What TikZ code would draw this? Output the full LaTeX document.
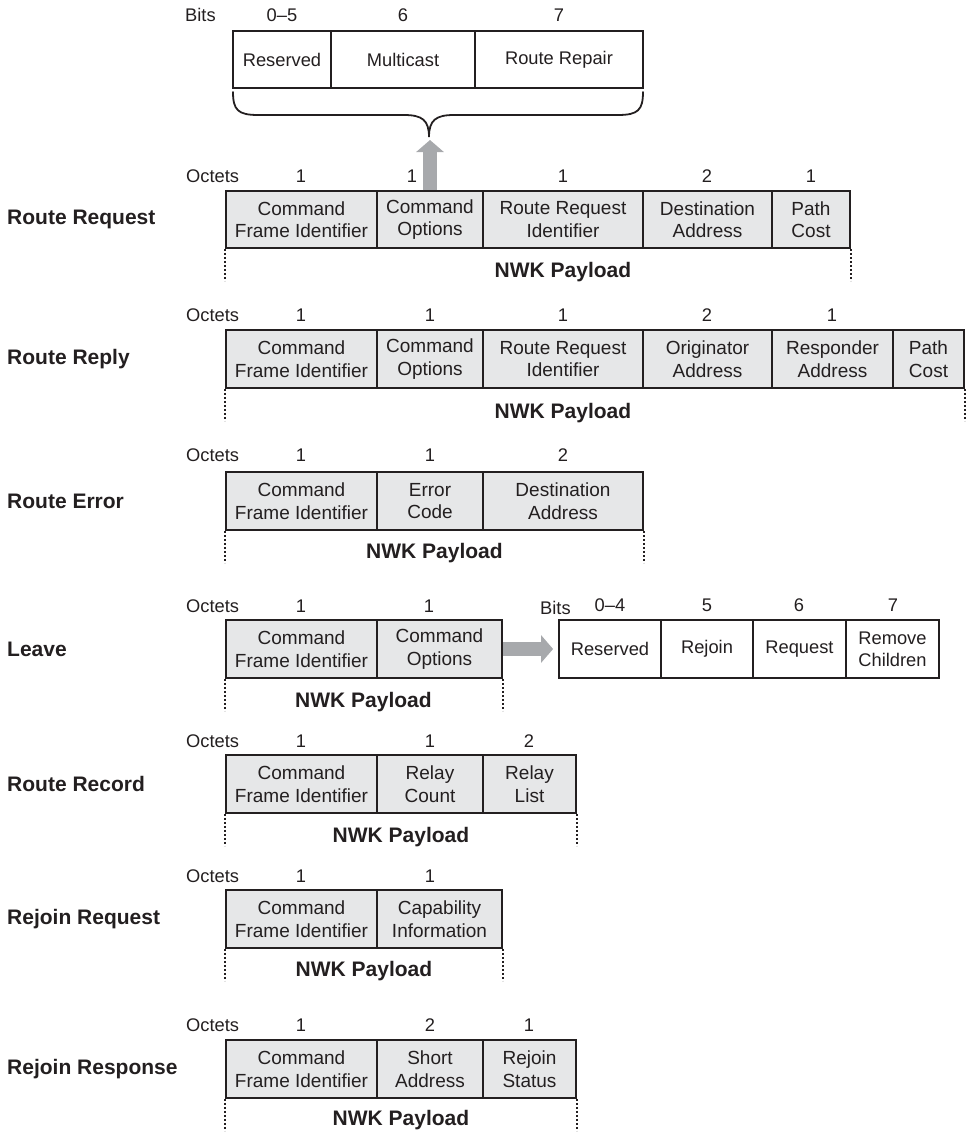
\documentclass[tikz,border=0pt]{standalone}
\usepackage{fontspec}
\setmainfont{Liberation Sans}
\usetikzlibrary{arrows.meta}
\definecolor{ink}{RGB}{35,31,32}
\definecolor{cellgray}{RGB}{230,231,232}
\definecolor{arrgray}{RGB}{167,169,172}
\newcommand\cellfont{\fontsize{19}{22.5}\selectfont}
\newcommand\bitfont{\fontsize{18.3}{22}\selectfont}
\newcommand\labfont{\fontsize{21}{24}\selectfont\bfseries}
\newcommand\fld[7]{\node[#7, minimum width={(#3-#2)*1pt}, minimum height={(#5-#4)*1pt}] (#1) at ({(#2+#3)/2},{(#4+#5)/2}) {#6};}
\tikzset{
  cell/.style={draw=ink, fill=cellgray, line width=1.8pt, inner sep=0pt, align=center, font=\cellfont, text=ink},
  bitcell/.style={cell, fill=white, font=\bitfont},
  num/.style={font=\bitfont, text=ink, inner sep=0pt},
  octlab/.style={font=\bitfont, text=ink, inner sep=0pt, anchor=west},
  lab/.style={font=\labfont, text=ink, anchor=west, inner sep=0pt},
  pay/.style={font=\labfont, text=ink, inner sep=0pt},
  dots/.style={draw=ink, line width=2.6pt, dash pattern=on 2pt off 2pt},
  bigarrow/.style={draw=arrgray, line width=14pt, -{Triangle[length=12pt,width=27pt]}},
  brace/.style={draw=ink, line width=1.8pt, line cap=round}
}
\begin{document}
\begin{tikzpicture}[x=1pt,y=-1pt]
\useasboundingbox (0,0) rectangle (968,1132);

% ---------- top bits (command options of route request)
\node[octlab] (tbits) at (185,15) {Bits};
\node[num] (tb0) at (282,15) {0--5};
\node[num] (tb1) at (403,15) {6};
\node[num] (tb2) at (559,15) {7};
\fld{tbA}{233}{331}{31}{88}{Reserved}{bitcell}
\fld{tbB}{331}{475}{31}{88}{Multicast}{bitcell}
\fld{tbC}{475}{643}{31}{88}{Route Repair}{bitcell}
\coordinate (btip) at (429,137);
\draw[brace] (233,92) .. controls (233,110) and (238,115) .. (258,115) -- (404,115)
  .. controls (422,115) and (429,120) .. (btip)
  .. controls (429,120) and (436,115) .. (454,115) -- (618,115)
  .. controls (638,115) and (643,110) .. (643,92);
\coordinate (atip) at (430,140);

% ---------- Row 1: Route Request
\node[lab] (l1) at (7,219) {Route Request};
\node[octlab] (o1) at (186,176) {Octets};
\node[num] at (301,176) {1};
\node[num] at (412,176) {1};
\node[num] at (563,176) {1};
\node[num] at (707,176) {2};
\node[num] at (811,176) {1};
\fld{r1a}{226}{377}{191}{248}{Command\\Frame Identifier}{cell}
\fld{r1b}{377}{483}{191}{248}{Command\\Options}{cell}
\fld{r1c}{483}{643}{191}{248}{Route Request\\Identifier}{cell}
\fld{r1d}{643}{772}{191}{248}{Destination\\Address}{cell}
\fld{r1e}{772}{850}{191}{248}{Path\\Cost}{cell}
\draw[dots] (r1a.south west) -- ++(0,32);
\draw[dots] (r1e.south east) -- ++(0,32);
\node[pay] (p1) at (563,272) {NWK Payload};
\draw[bigarrow] (r1b.north) -- (atip);

% ---------- Row 2: Route Reply
\node[lab] (l2) at (7,359) {Route Reply};
\node[octlab] (o2) at (186,315) {Octets};
\node[num] at (301,315) {1};
\node[num] at (430,315) {1};
\node[num] at (563,315) {1};
\node[num] at (707,315) {2};
\node[num] at (832,315) {1};
\fld{r2a}{226}{377}{330}{388}{Command\\Frame Identifier}{cell}
\fld{r2b}{377}{483}{330}{388}{Command\\Options}{cell}
\fld{r2c}{483}{643}{330}{388}{Route Request\\Identifier}{cell}
\fld{r2d}{643}{772}{330}{388}{Originator\\Address}{cell}
\fld{r2e}{772}{893}{330}{388}{Responder\\Address}{cell}
\fld{r2f}{893}{964}{330}{388}{Path\\Cost}{cell}
\draw[dots] (r2a.south west) -- ++(0,32);
\draw[dots] (r2f.south east) -- ++(0,32);
\node[pay] (p2) at (563,413) {NWK Payload};

% ---------- Row 3: Route Error
\node[lab] (l3) at (7,501) {Route Error};
\node[octlab] (o3) at (186,455) {Octets};
\node[num] at (301,455) {1};
\node[num] at (430,455) {1};
\node[num] at (563,455) {2};
\fld{r3a}{226}{377}{472}{530}{Command\\Frame Identifier}{cell}
\fld{r3b}{377}{483}{472}{530}{Error\\Code}{cell}
\fld{r3c}{483}{643}{472}{530}{Destination\\Address}{cell}
\draw[dots] (r3a.south west) -- ++(0,32);
\draw[dots] (r3c.south east) -- ++(0,32);
\node[pay] (p3) at (434.5,553) {NWK Payload};

% ---------- Row 4: Leave
\node[lab] (l4) at (7,649) {Leave};
\node[octlab] (o4) at (186,606) {Octets};
\node[num] at (301,606) {1};
\node[num] at (429,606) {1};
\fld{r4a}{226}{377}{620}{678}{Command\\Frame Identifier}{cell}
\fld{r4b}{377}{502}{620}{678}{Command\\Options}{cell}
\draw[dots] (r4a.south west) -- ++(0,32);
\draw[dots] (r4b.south east) -- ++(0,32);
\node[pay] (p4) at (363.5,702) {NWK Payload};
\node[octlab] (lbits) at (540,608) {Bits};
\node[num] at (610,605) {0--4};
\node[num] at (707,605) {5};
\node[num] at (799,605) {6};
\node[num] at (893,605) {7};
\fld{lbA}{559}{661}{620}{678}{Reserved}{bitcell}
\fld{lbB}{661}{753}{620}{678}{Rejoin}{bitcell}
\fld{lbC}{753}{846}{620}{678}{Request}{bitcell}
\fld{lbD}{846}{939}{620}{678}{Remove\\Children}{bitcell}
\draw[bigarrow, shorten >=5pt] (r4b.east) -- (lbA.west);

% ---------- Row 5: Route Record
\node[lab] (l5) at (7,784) {Route Record};
\node[octlab] (o5) at (186,741) {Octets};
\node[num] at (301,741) {1};
\node[num] at (430,741) {1};
\node[num] at (529,741) {2};
\fld{r5a}{226}{377}{755}{813}{Command\\Frame Identifier}{cell}
\fld{r5b}{377}{483}{755}{813}{Relay\\Count}{cell}
\fld{r5c}{483}{576}{755}{813}{Relay\\List}{cell}
\draw[dots] (r5a.south west) -- ++(0,32);
\draw[dots] (r5c.south east) -- ++(0,32);
\node[pay] (p5) at (401,837) {NWK Payload};

% ---------- Row 6: Rejoin Request
\node[lab] (l6) at (7,919) {Rejoin Request};
\node[octlab] (o6) at (186,876) {Octets};
\node[num] at (301,876) {1};
\node[num] at (430,876) {1};
\fld{r6a}{226}{377}{890}{948}{Command\\Frame Identifier}{cell}
\fld{r6b}{377}{502}{890}{948}{Capability\\Information}{cell}
\draw[dots] (r6a.south west) -- ++(0,32);
\draw[dots] (r6b.south east) -- ++(0,32);
\node[pay] (p6) at (364,971) {NWK Payload};

% ---------- Row 7: Rejoin Response
\node[lab] (l7) at (7,1069) {Rejoin Response};
\node[octlab] (o7) at (186,1025) {Octets};
\node[num] at (301,1025) {1};
\node[num] at (430,1025) {2};
\node[num] at (529,1025) {1};
\fld{r7a}{226}{377}{1040}{1098}{Command\\Frame Identifier}{cell}
\fld{r7b}{377}{483}{1040}{1098}{Short\\Address}{cell}
\fld{r7c}{483}{576}{1040}{1098}{Rejoin\\Status}{cell}
\draw[dots] (r7a.south west) -- ++(0,32);
\draw[dots] (r7c.south east) -- ++(0,32);
\node[pay] (p7) at (401,1120) {NWK Payload};
\end{tikzpicture}
\end{document}
